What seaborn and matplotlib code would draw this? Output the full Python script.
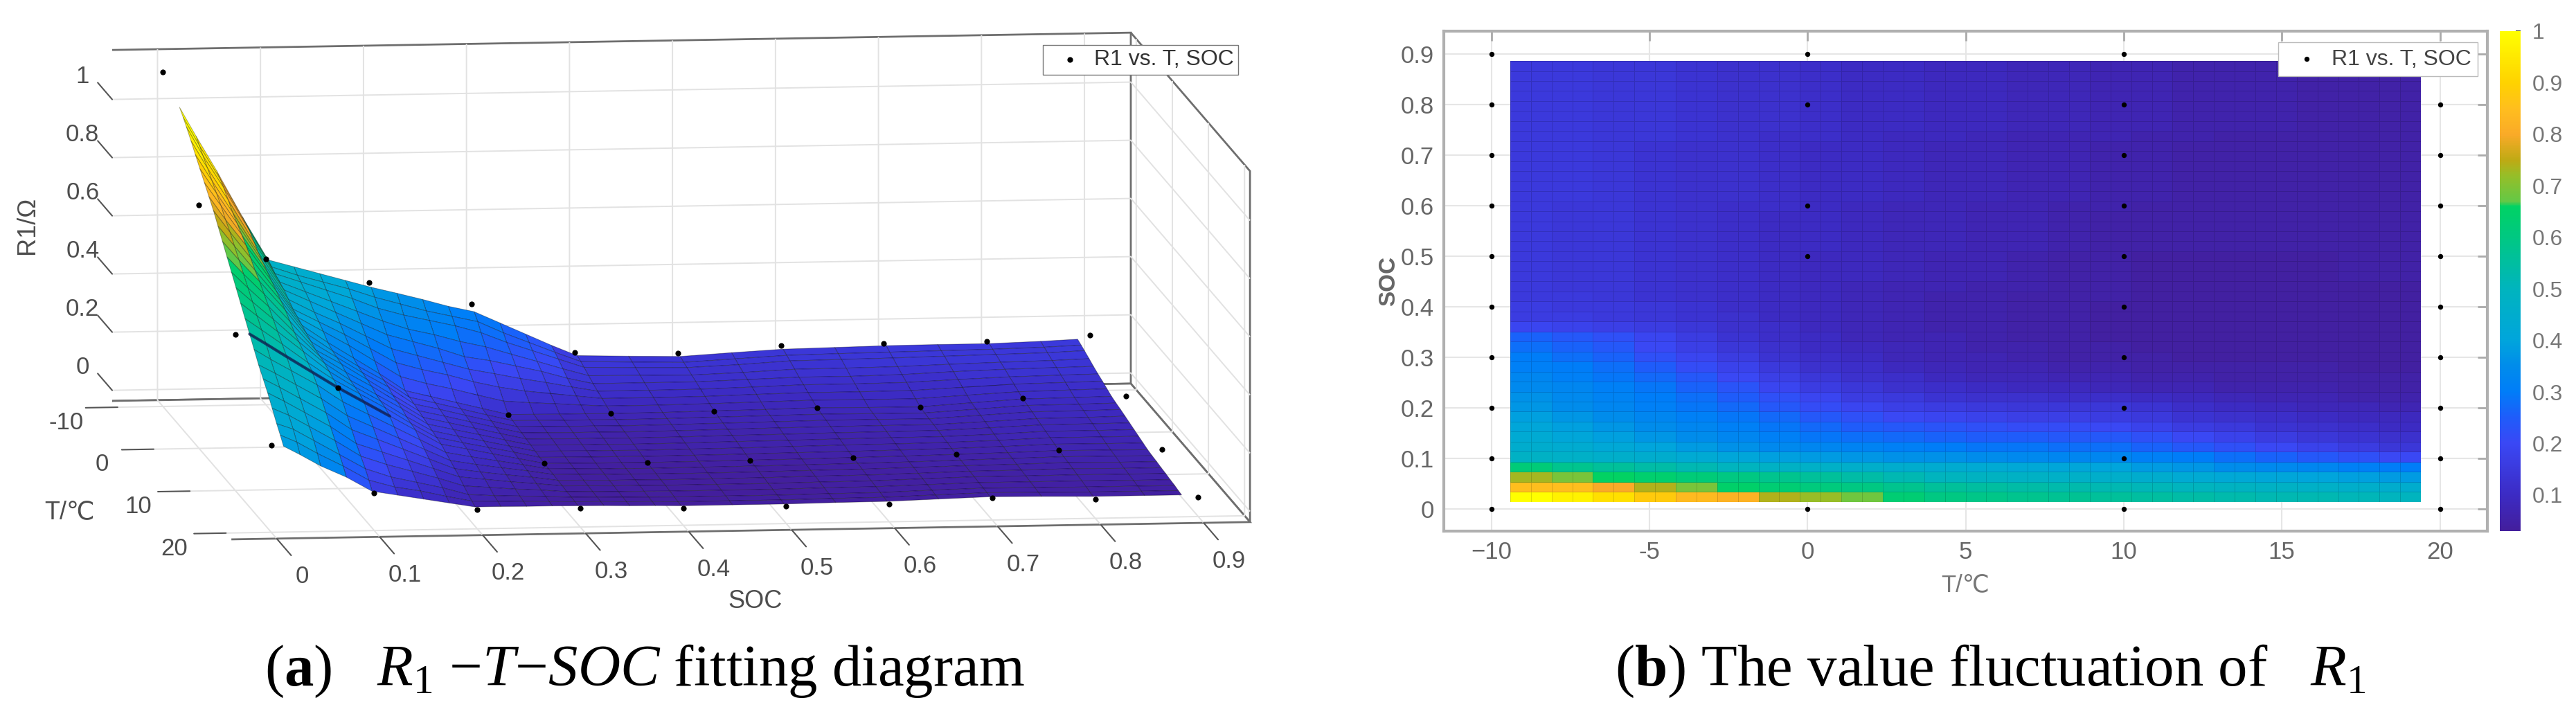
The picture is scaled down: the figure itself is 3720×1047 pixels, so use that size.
import numpy as np
import pandas as pd
import seaborn as sns
import matplotlib
matplotlib.use('Agg')
import matplotlib.pyplot as plt
from matplotlib.colors import LinearSegmentedColormap, Normalize
from mpl_toolkits.mplot3d import proj3d

# ---------- panel (a): fitted surface, rows follow SOC_SURF, columns T_SURF
SOC_SURF = [.014,.03,.05,.075,.1,.125,.15,.175,.2,.225,.25,.275,.3,.325,.35,.375,.4,.45,.5,.55,.6,.65,.7,.75,.8,.85,.886]
T_SURF = [-9.4,-8.4,-7.5,-6.2,-5,-3.75,-2.5,-1.25,0,1.25,2.5,3.75,5,6.25,7.5,8.75,10,11.25,12.5,13.75,15,16.25,17.5,18.5,19.4]
R1_SURF = [
    [1.00,.98,.96,.93,.90,.87,.84,.81,.78,.745,.71,.675,.64,.605,.57,.535,.50,.465,.43,.40,.37,.335,.30,.275,.25],
    [.90,.88,.86,.835,.81,.785,.76,.73,.705,.675,.645,.615,.585,.555,.525,.495,.465,.43,.40,.37,.34,.31,.28,.25,.22],
    [.78,.765,.75,.725,.70,.68,.66,.64,.615,.59,.57,.545,.52,.495,.47,.445,.42,.39,.36,.33,.30,.27,.24,.21,.18],
    [.62,.61,.60,.58,.56,.545,.53,.515,.50,.485,.47,.45,.43,.415,.40,.38,.365,.34,.31,.28,.25,.22,.19,.165,.14],
    [.47,.46,.45,.44,.43,.415,.40,.39,.38,.37,.36,.35,.345,.34,.33,.32,.31,.28,.25,.22,.19,.165,.14,.115,.09],
    [.445,.43,.42,.405,.39,.37,.355,.34,.32,.31,.305,.30,.29,.28,.275,.27,.26,.235,.21,.185,.16,.135,.11,.09,.075],
    [.42,.405,.39,.37,.35,.33,.31,.29,.265,.255,.25,.245,.24,.23,.225,.22,.21,.19,.17,.15,.13,.11,.09,.075,.06],
    [.395,.38,.36,.335,.31,.285,.26,.235,.21,.205,.20,.19,.185,.18,.17,.165,.16,.145,.13,.115,.10,.085,.07,.055,.045],
    [.37,.35,.325,.30,.27,.24,.21,.18,.15,.145,.14,.135,.13,.125,.12,.115,.11,.10,.09,.08,.07,.057,.045,.037,.03],
    [.348,.325,.30,.27,.245,.215,.185,.155,.128,.124,.12,.115,.11,.105,.10,.096,.092,.083,.075,.067,.06,.05,.04,.035,.03],
    [.325,.30,.28,.25,.22,.19,.165,.135,.106,.102,.098,.094,.09,.086,.082,.078,.074,.068,.062,.056,.05,.043,.037,.033,.029],
    [.30,.28,.26,.225,.19,.165,.14,.112,.084,.08,.077,.073,.07,.066,.063,.06,.056,.053,.05,.046,.042,.038,.034,.031,.029],
    [.28,.26,.235,.205,.175,.148,.12,.09,.062,.059,.056,.053,.05,.047,.044,.041,.038,.037,.036,.034,.033,.031,.03,.029,.028],
    [.24,.22,.20,.178,.155,.13,.105,.083,.061,.058,.055,.052,.049,.046,.043,.04,.037,.036,.035,.033,.032,.03,.029,.028,.027],
    [.20,.185,.17,.152,.135,.115,.095,.078,.06,.057,.054,.051,.048,.045,.042,.039,.036,.034,.033,.031,.03,.028,.027,.026,.025],
    [.16,.15,.14,.125,.11,.098,.085,.072,.06,.057,.054,.051,.048,.045,.042,.039,.036,.034,.033,.031,.03,.028,.026,.025,.024],
    [.123,.117,.11,.10,.09,.082,.075,.067,.059,.056,.053,.05,.047,.044,.041,.038,.035,.033,.032,.03,.029,.027,.025,.023,.022],
    [.118,.112,.106,.098,.09,.082,.075,.067,.06,.057,.054,.051,.048,.045,.042,.039,.036,.034,.032,.03,.029,.027,.025,.023,.022],
    [.114,.108,.103,.096,.09,.083,.076,.069,.062,.059,.056,.053,.05,.047,.043,.04,.037,.035,.033,.031,.029,.027,.025,.023,.022],
    [.124,.117,.11,.102,.095,.087,.08,.072,.064,.061,.058,.055,.051,.048,.045,.042,.038,.036,.035,.033,.031,.029,.027,.025,.024],
    [.133,.126,.12,.11,.10,.092,.083,.075,.067,.063,.06,.056,.053,.05,.047,.043,.04,.038,.036,.034,.032,.03,.028,.026,.025],
    [.136,.129,.122,.111,.10,.092,.083,.074,.065,.062,.06,.057,.054,.051,.048,.045,.042,.04,.039,.037,.036,.034,.033,.031,.03],
    [.139,.131,.124,.113,.103,.094,.084,.074,.064,.061,.059,.057,.055,.052,.05,.047,.045,.043,.042,.041,.04,.038,.037,.036,.035],
    [.14,.133,.127,.118,.11,.101,.092,.083,.075,.071,.068,.064,.061,.057,.054,.051,.048,.046,.044,.042,.04,.038,.036,.034,.033],
    [.14,.135,.13,.122,.115,.107,.10,.092,.085,.081,.077,.072,.068,.064,.06,.056,.052,.049,.047,.044,.041,.038,.035,.032,.03],
    [.145,.139,.133,.125,.118,.11,.103,.095,.087,.082,.078,.073,.069,.064,.06,.055,.051,.048,.045,.042,.04,.037,.035,.032,.03],
    [.15,.144,.138,.129,.12,.112,.105,.097,.089,.084,.08,.075,.07,.065,.06,.055,.05,.047,.045,.042,.04,.037,.035,.032,.03],
]
# measured points that are not hidden by the surface
DOT_T = [-10]*10 + [0]*8 + [10]*9 + [20]*10
DOT_SOC = [0,.1,.2,.3,.4,.5,.6,.7,.8,.9,
           0,.3,.4,.5,.6,.7,.8,.9,
           0,.1,.3,.4,.5,.6,.7,.8,.9,
           0,.1,.2,.3,.4,.5,.6,.7,.8,.9]
DOT_R1 = [1.114,.465,.378,.298,.125,.116,.136,.139,.14,.154,
          .80,.062,.059,.062,.067,.064,.088,.089,
          .50,.31,.038,.035,.037,.04,.045,.053,.05,
          .263,.092,.029,.027,.022,.022,.025,.04,.03,.03]
SOC_TICKS = [0,.1,.2,.3,.4,.5,.6,.7,.8,.9]
T_TICKS_3D = [-10,0,10,20]
Z_TICKS = [0,.2,.4,.6,.8,1]
Z_LABELS = ['0','0.2','0.4','0.6','0.8','1']

# ---------- panel (b): heat map, 44 SOC rows (bottom first), 22 T columns
R1_HEAT = [
    [1.0,.97,.93,.88,.84,.82,.74,.72,.68,.63,.60,.59,.58,.57,.56,.55,.54,.53,.52,.52,.51,.50],
    [.85,.85,.80,.74,.69,.65,.63,.61,.60,.58,.56,.55,.54,.53,.52,.51,.50,.49,.48,.47,.46,.45],
    [.73,.69,.66,.64,.62,.60,.58,.56,.54,.52,.50,.49,.48,.47,.46,.45,.43,.42,.41,.40,.39,.38],
    [.62,.58,.56,.54,.52,.50,.48,.47,.46,.45,.44,.43,.42,.41,.40,.38,.37,.35,.34,.33,.31,.30],
    [.48,.47,.46,.45,.43,.41,.39,.38,.37,.36,.36,.35,.34,.33,.33,.31,.30,.28,.26,.24,.22,.20],
    [.45,.44,.42,.40,.38,.36,.34,.33,.32,.31,.30,.29,.29,.28,.28,.26,.24,.22,.20,.18,.16,.14],
    [.43,.41,.39,.37,.35,.33,.31,.29,.28,.27,.26,.25,.25,.24,.24,.22,.20,.18,.16,.14,.13,.12],
    [.41,.39,.37,.35,.33,.31,.29,.27,.25,.24,.23,.22,.21,.21,.20,.18,.16,.15,.13,.12,.11,.10],
    [.39,.37,.35,.33,.31,.29,.27,.24,.22,.20,.19,.18,.17,.17,.16,.15,.13,.12,.11,.10,.09,.09],
    [.37,.35,.33,.31,.29,.27,.24,.21,.19,.17,.16,.15,.14,.14,.14,.13,.11,.10,.09,.08,.08,.07],
    [.36,.34,.32,.30,.28,.25,.22,.19,.16,.15,.13,.12,.12,.11,.11,.10,.09,.08,.07,.07,.06,.06],
    [.34,.33,.31,.29,.26,.23,.19,.16,.14,.12,.11,.10,.09,.09,.08,.07,.07,.06,.06,.06,.05,.05],
    [.33,.31,.29,.27,.24,.20,.17,.14,.12,.11,.09,.08,.08,.07,.07,.06,.06,.05,.05,.05,.05,.05],
    [.31,.30,.28,.25,.21,.18,.15,.12,.11,.09,.08,.07,.07,.06,.06,.05,.05,.05,.05,.05,.04,.04],
    [.30,.28,.26,.22,.19,.16,.13,.11,.10,.08,.07,.07,.06,.05,.05,.05,.04,.04,.04,.04,.04,.04],
    [.28,.26,.24,.20,.17,.14,.12,.10,.09,.08,.07,.06,.06,.05,.05,.04,.04,.04,.04,.04,.04,.04],
    [.26,.24,.22,.19,.16,.13,.11,.10,.08,.07,.07,.06,.05,.05,.04,.04,.04,.04,.04,.04,.04,.04],
    [.19,.18,.17,.16,.14,.12,.11,.09,.08,.07,.06,.06,.05,.05,.04,.04,.04,.04,.04,.04,.04,.04],
    [.16,.16,.15,.14,.13,.12,.10,.09,.08,.07,.06,.06,.05,.05,.04,.04,.04,.04,.04,.04,.04,.04],
    [.16,.15,.15,.14,.13,.11,.10,.09,.08,.07,.06,.06,.05,.05,.04,.04,.04,.04,.04,.04,.04,.04],
    [.15,.15,.14,.13,.12,.11,.10,.09,.08,.07,.06,.06,.05,.05,.05,.04,.04,.04,.04,.04,.04,.04],
    [.15,.14,.14,.13,.12,.11,.10,.09,.08,.07,.07,.06,.06,.05,.05,.04,.04,.04,.04,.04,.04,.04],
    [.15,.14,.14,.13,.12,.11,.10,.09,.09,.08,.07,.07,.06,.05,.05,.04,.04,.04,.04,.04,.05,.05],
    [.15,.14,.14,.13,.12,.11,.10,.09,.09,.08,.07,.07,.06,.05,.05,.04,.04,.04,.04,.04,.05,.05],
    [.15,.14,.14,.13,.12,.11,.10,.09,.09,.08,.07,.07,.06,.05,.05,.04,.04,.04,.04,.04,.05,.05],
    [.15,.14,.14,.13,.12,.11,.10,.10,.09,.08,.08,.07,.07,.06,.05,.05,.05,.05,.05,.05,.05,.05],
    [.15,.14,.14,.13,.12,.11,.10,.10,.09,.08,.08,.07,.07,.06,.05,.05,.05,.05,.05,.05,.05,.05],
    [.15,.14,.14,.13,.12,.11,.10,.10,.09,.08,.08,.07,.07,.06,.05,.05,.05,.05,.05,.05,.05,.05],
    [.15,.14,.14,.13,.12,.11,.10,.10,.09,.08,.08,.07,.07,.06,.05,.05,.05,.05,.05,.05,.05,.05],
    [.15,.14,.14,.13,.12,.11,.11,.10,.09,.08,.08,.07,.07,.06,.06,.05,.05,.05,.05,.05,.05,.05],
    [.15,.15,.14,.13,.12,.12,.11,.10,.10,.09,.08,.08,.07,.07,.06,.06,.05,.05,.05,.05,.05,.05],
    [.15,.15,.14,.13,.12,.12,.11,.10,.10,.09,.08,.08,.07,.07,.06,.06,.05,.05,.05,.05,.05,.05],
    [.15,.15,.14,.13,.12,.12,.11,.10,.10,.09,.08,.08,.07,.07,.06,.06,.05,.05,.05,.05,.05,.05],
    [.15,.15,.14,.13,.12,.12,.11,.10,.10,.09,.08,.08,.07,.07,.06,.06,.05,.05,.05,.05,.05,.05],
    [.15,.15,.14,.13,.12,.12,.11,.10,.10,.09,.08,.08,.07,.07,.06,.06,.05,.05,.05,.05,.05,.05],
    [.15,.15,.14,.13,.12,.12,.11,.10,.10,.09,.08,.08,.07,.07,.06,.06,.05,.05,.05,.05,.05,.05],
    [.15,.15,.14,.14,.13,.12,.11,.11,.10,.09,.09,.08,.07,.07,.07,.06,.06,.05,.05,.05,.05,.05],
    [.15,.15,.14,.14,.13,.12,.12,.11,.10,.10,.09,.09,.08,.08,.07,.07,.06,.06,.06,.05,.05,.05],
    [.15,.15,.14,.14,.13,.12,.12,.11,.10,.10,.09,.09,.08,.08,.07,.07,.06,.06,.06,.05,.05,.05],
    [.15,.15,.14,.14,.13,.12,.12,.11,.10,.10,.09,.09,.08,.08,.07,.07,.06,.06,.06,.05,.05,.05],
    [.15,.15,.14,.14,.13,.12,.12,.11,.10,.10,.09,.09,.08,.08,.07,.07,.06,.06,.06,.05,.05,.05],
    [.15,.15,.14,.14,.13,.12,.12,.11,.10,.10,.09,.09,.08,.08,.07,.07,.06,.06,.06,.05,.05,.05],
    [.15,.15,.14,.14,.13,.12,.12,.11,.10,.10,.09,.09,.08,.08,.07,.07,.06,.06,.06,.05,.05,.05],
    [.15,.15,.14,.14,.13,.12,.12,.11,.10,.10,.09,.09,.08,.08,.07,.07,.06,.06,.06,.05,.05,.05],
]
HEAT_T_RANGE = (-9.4, 19.4)
HEAT_SOC_RANGE = (.014, .886)
PT_T = [-10]*10 + [0,0,0,0,0] + [10]*10 + [20]*9
PT_SOC = [0,.1,.2,.3,.4,.5,.6,.7,.8,.9,
          0,.5,.6,.8,.9,
          0,.1,.3,.4,.5,.6,.7,.8,.9,.2,
          0,.1,.2,.3,.4,.5,.6,.7,.8]
T_TICKS = [-10,-5,0,5,10,15,20]
T_LABELS = ['\u221210','-5','0','5','10','15','20']
SOC_LABELS = ['0','0.1','0.2','0.3','0.4','0.5','0.6','0.7','0.8','0.9']
CBAR_TICKS = [.1,.2,.3,.4,.5,.6,.7,.8,.9,1]
CBAR_LABELS = ['0.1','0.2','0.3','0.4','0.5','0.6','0.7','0.8','0.9','1']

# colour bar of the picture
CMAP_VALUES = [.03,.1,.2,.25,.3,.35,.4,.5,.6,.66,.67,.72,.75,.8,.85,.9,1]
CMAP_COLORS = ['#431e9c','#3c2bc4','#3a48f5','#1f5cfa','#007df8','#008ceb','#00a5dc','#00b4be',
               '#00c882','#00d264','#64c846','#96be28','#beaa14','#faaa28','#ffbe1e','#ffd200','#ffff00']

W, H = 3720, 1047
TEXT = '#4d4d4d'
LIGHT = '#555555'

sns.set_theme(style='white')
plt.rcParams['font.family'] = ['Liberation Sans', 'DejaVu Sans']
plt.rcParams['mathtext.fontset'] = 'custom'
plt.rcParams['mathtext.rm'] = 'Liberation Serif'
plt.rcParams['mathtext.it'] = 'Liberation Serif:italic'
plt.rcParams['mathtext.bf'] = 'Liberation Serif:bold'

stops = [(v - .03) / .97 for v in CMAP_VALUES]
parula = LinearSegmentedColormap.from_list('pic', list(zip(stops, CMAP_COLORS)), N=512)
norm = Normalize(.03, 1)


def box(l, t, r, b):
    return [l / W, 1 - b / H, (r - l) / W, (b - t) / H]


fig = plt.figure(figsize=(W / 100, H / 100), dpi=100)

# ---------------- (a) 3D fit
side = 1900
ax3 = fig.add_axes(box(30, 523 - side / 2, 30 + side, 523 + side / 2), projection='3d', proj_type='ortho')
ax3.patch.set_alpha(0)
ax3.computed_zorder = False
xlim, tlim, zlim = (-.044, .945), (21.5, -11.5), (-.0365, 1.17)
ax3.set_xlim(*xlim, view_margin=0)
ax3.set_ylim(*tlim, view_margin=0)
ax3.set_zlim(*zlim, view_margin=0)
ax3.view_init(elev=8.08, azim=-96.9)
aspect = (1482, 1433, 512)
zoom = 1.0
ax3.set_box_aspect(aspect, zoom=zoom)
ax3.set_xticks(SOC_TICKS)
ax3.set_yticks(T_TICKS_3D)
ax3.set_zticks(Z_TICKS)
for axis in (ax3.xaxis, ax3.yaxis, ax3.zaxis):
    axis.set_ticklabels([])
    axis.set_pane_color((1, 1, 1, 1))
    axis.pane.set_edgecolor('#6e6e6e')
    axis.pane.set_linewidth(2)
    axis.line.set_color((0, 0, 0, 0))
    axis._axinfo['grid'].update(color='#e2e2e2', linewidth=1.4)
    axis._axinfo['tick'].update(inward_factor=0, outward_factor=0)

# surface colours sit between its height and the heat map of panel (b)
heat = np.array(R1_HEAT)
rows = np.clip(((np.array(SOC_SURF) - HEAT_SOC_RANGE[0]) / .872 * heat.shape[0]).astype(int), 0, heat.shape[0] - 1)
cols = np.clip(((np.array(T_SURF) - HEAT_T_RANGE[0]) / 28.8 * heat.shape[1]).astype(int), 0, heat.shape[1] - 1)
S, T = np.meshgrid(SOC_SURF, T_SURF, indexing='ij')
surf_z = np.array(R1_SURF)
surf = ax3.plot_surface(S, T, surf_z, facecolors=parula(norm((heat[np.ix_(rows, cols)] + surf_z) / 2)),
                        rstride=1, cstride=1, linewidth=.7, shade=False, zorder=1)
surf.set_edgecolor((0, 0, 0, .33))
# the fold along T=10 shows as a dark seam
i10 = T_SURF.index(10)
ax3.plot(SOC_SURF[:7], [10] * 7, [r[i10] for r in R1_SURF[:7]], color='#101c50', lw=3, alpha=.75, zorder=1.5)
dots = ax3.scatter(DOT_SOC, DOT_T, DOT_R1, c='black', s=24, depthshade=False, zorder=2,
                   label='R1 vs. T, SOC')

# slanted ticks
for s in SOC_TICKS:
    ax3.plot([s, s], [21.5, 25.5], [zlim[0]] * 2, color=LIGHT, lw=1.5, zorder=3)
for t in T_TICKS_3D:
    ax3.plot([-.044, -.075], [t, t], [zlim[0]] * 2, color=LIGHT, lw=1.5, zorder=3)
for z in Z_TICKS:
    ax3.plot([-.044] * 2, [-11.5, -15.5], [z, z], color=LIGHT, lw=1.5, zorder=3)


# fit the drawn box onto the box of the reference
def corner_px(x, y, z):
    X, Y, _ = proj3d.proj_transform(x, y, z, ax3.get_proj())
    return ax3.transData.transform((X, Y))


fig.canvas.draw()
d = corner_px(xlim[1], tlim[1], zlim[0])[0] - corner_px(xlim[0], tlim[1], zlim[0])[0]
zoom *= 1471 / d
ax3.set_box_aspect(aspect, zoom=zoom)
fig.canvas.draw()
px = corner_px(xlim[0], tlim[1], zlim[0])
pos = ax3.get_position(original=True)
ax3.set_position([pos.x0 + (162 - px[0]) / W, pos.y0 + ((H - 579) - px[1]) / H, pos.width, pos.height])
fig.canvas.draw()


# tick labels follow the projected ticks
def label3d(x, y, z, lab):
    p = corner_px(x, y, z)
    fig.text(p[0] / W, p[1] / H, lab, ha='center', va='center', fontsize=25, color=TEXT)


for s, lab in zip(SOC_TICKS, SOC_LABELS):
    label3d(s, 28.5, zlim[0] - .03, lab)
for t in T_TICKS_3D:
    label3d(-.094, t, zlim[0] - .05, str(t))
for z, lab in zip(Z_TICKS, Z_LABELS):
    label3d(-.044, -19.7, z - .04, lab)

fig.text(39 / W, 1 - 325 / H, 'R1/\u03a9', rotation=90, ha='center', va='center', fontsize=26, color=TEXT)
fig.text(101 / W, 1 - 740 / H, 'T/\u2103', ha='center', va='center', fontsize=26, color=TEXT)
fig.text(1091 / W, 1 - 868 / H, 'SOC', ha='center', va='center', fontsize=26, color=TEXT)
fig.legend(handles=[dots], loc='upper right', bbox_to_anchor=(1788 / W, 1 - 65 / H), fontsize=23,
           fancybox=False, edgecolor='#777777', framealpha=1, labelcolor='#333333',
           borderpad=.2, handletextpad=.1, borderaxespad=0)

# ---------------- (b) heat map
ax_b = fig.add_axes(box(2085, 45, 3592, 767))
ax_b.set_xlim(-11.5, 21.5)
ax_b.set_ylim(-.044, .945)
ax_b.set_xticks(T_TICKS)
ax_b.set_xticklabels(T_LABELS)
ax_b.set_yticks(SOC_TICKS)
ax_b.set_yticklabels(SOC_LABELS)
ax_b.grid(True, color='#e6e6e6', lw=1.5)
ax_b.tick_params(direction='in', length=10, width=2, color='#aaaaaa', top=True, right=True,
                 labelsize=25, labelcolor='#666666', pad=10)
for sp in ax_b.spines.values():
    sp.set_color('#b0b0b0')
    sp.set_linewidth(3)
ax_b.set_xlabel('T/\u2103', fontsize=25, color='#777777', labelpad=10)
ax_b.set_ylabel('SOC', fontsize=24, color='#666666', labelpad=1, fontweight='bold')

inv = fig.transFigure.inverted()
(hx0, hy0), (hx1, hy1) = inv.transform(ax_b.transData.transform(
    [(HEAT_T_RANGE[0], HEAT_SOC_RANGE[0]), (HEAT_T_RANGE[1], HEAT_SOC_RANGE[1])]))
ax_heat = fig.add_axes([hx0, hy0, hx1 - hx0, hy1 - hy0])
ax_cbar = fig.add_axes(box(3610, 45, 3640, 767))
heat_df = pd.DataFrame(np.repeat(heat, 2, axis=1))
sns.heatmap(heat_df, ax=ax_heat, cmap=parula, vmin=.03, vmax=1, linewidths=.6, linecolor=(0, 0, 0, .14),
            xticklabels=False, yticklabels=False, cbar_ax=ax_cbar, cbar_kws={'ticks': CBAR_TICKS})
ax_heat.invert_yaxis()
ax_cbar.set_yticklabels(CBAR_LABELS)
ax_cbar.tick_params(direction='in', length=5, width=1.5, color='#333333', labelsize=23, labelcolor='#777777', pad=12)
ax_heat.collections[0].colorbar.outline.set_visible(False)

ax_dots = fig.add_axes(box(2085, 45, 3592, 767), sharex=ax_b, sharey=ax_b)
ax_dots.patch.set_alpha(0)
ax_dots.axis('off')
sns.scatterplot(x=PT_T, y=PT_SOC, ax=ax_dots, color='black', s=28, linewidth=0, label='R1 vs. T, SOC', legend=True)
ax_dots.legend(loc='upper right', bbox_to_anchor=(3578 / W, 1 - 61 / H), bbox_transform=fig.transFigure,
               fontsize=23, fancybox=False, edgecolor='#bbbbbb', framealpha=1, labelcolor='#444444',
               borderpad=.3, handletextpad=.1, borderaxespad=0)

# ---------------- captions
cap = dict(ha='center', va='baseline', fontsize=61, family='Liberation Serif', color='black')
fig.text(931 / W, 1 - 990 / H, '($\\mathbf{a}$)   $\\mathit{R}_{1}$ \u2212$\\mathit{T}$\u2212$\\mathit{SOC}$ fitting diagram', **cap)
fig.text(2874 / W, 1 - 990 / H, '($\\mathbf{b}$) The value fluctuation of   $\\mathit{R}_{1}$', **cap)

fig.savefig('out.png', dpi=100)
